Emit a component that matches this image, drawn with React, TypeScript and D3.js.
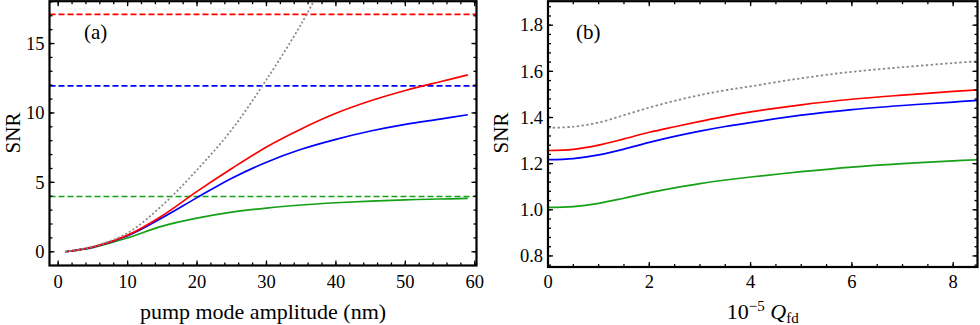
import React from 'react';
import * as d3 from 'd3';

// panel (a): SNR vs pump mode amplitude
const ampX = [1, 5, 10, 15, 20, 25, 30, 35, 40, 45, 50, 55, 59];
const ampRed = [0, 0.35, 1.2, 2.6, 4.35, 6.0, 7.55, 8.85, 9.98, 10.88, 11.62, 12.25, 12.74];
const ampBlue = [0, 0.33, 1.15, 2.45, 3.9, 5.3, 6.45, 7.38, 8.1, 8.7, 9.18, 9.56, 9.87];
const ampGreen = [0, 0.3, 1.0, 1.85, 2.42, 2.85, 3.15, 3.37, 3.53, 3.65, 3.74, 3.8, 3.84];
const grayX = [1, 5, 10, 15, 20, 25, 30, 35, 38];
const ampGray = [0, 0.38, 1.35, 3.35, 5.9, 8.8, 12.4, 16.4, 19.2];
const limitsA = [
  { v: 17.1, color: '#ff0000' },
  { v: 11.95, color: '#0000ff' },
  { v: 3.98, color: '#16a016' },
];

// panel (b): SNR vs 10^-5 Q_fd
const qX = [0, 0.5, 1, 1.5, 2, 2.5, 3, 3.5, 4, 5, 6, 7, 8, 8.5];
const qGray = [1.355, 1.36, 1.378, 1.41, 1.443, 1.472, 1.497, 1.518, 1.535, 1.57, 1.598, 1.618, 1.636, 1.644];
const qRed = [1.257, 1.262, 1.28, 1.307, 1.336, 1.36, 1.383, 1.405, 1.424, 1.455, 1.479, 1.497, 1.513, 1.52];
const qBlue = [1.217, 1.222, 1.238, 1.263, 1.292, 1.318, 1.341, 1.361, 1.378, 1.41, 1.434, 1.452, 1.467, 1.474];
const qGreen = [1.01, 1.014, 1.028, 1.05, 1.074, 1.095, 1.113, 1.129, 1.142, 1.165, 1.185, 1.2, 1.212, 1.217];

const ticksAx = [0, 10, 20, 30, 40, 50, 60];
const ticksAy = [0, 5, 10, 15];
const ticksBx = [0, 2, 4, 6, 8];
const ticksBy = [0.8, 1.0, 1.2, 1.4, 1.6, 1.8];

const FONT = '"Liberation Serif", "Times New Roman", serif';
const RED = '#ff0000';
const BLUE = '#0000ff';
const GREEN = '#16a016';
const GRAY = '#8a8a8a';

type Series = { xs: number[]; ys: number[]; color: string; dash?: string };

function Panel({ id, left, right, top, bottom, xDomain, yDomain, xTicks, yTicks, xMinor, yMinor, yFmt, series, limits, tag, tagX, xLabel, yLabelX }: any) {
  const x = d3.scaleLinear().domain(xDomain).range([left, right]);
  const y = d3.scaleLinear().domain(yDomain).range([bottom, top]);
  const line = (s: Series) =>
    d3.line<number>().x((_, i) => x(s.xs[i])).y(d => y(d)).curve(d3.curveCatmullRom.alpha(0.5))(s.ys) || '';
  const minorX = d3.range(Math.ceil(xDomain[0] / xMinor) * xMinor, xDomain[1] + 1e-9, xMinor);
  const minorY = d3.range(Math.ceil(yDomain[0] / yMinor - 1e-9) * yMinor, yDomain[1] + 1e-9, yMinor);
  return (
    <g>
      <defs>
        <clipPath id={id}>
          <rect x={left} y={top} width={right - left} height={bottom - top} />
        </clipPath>
      </defs>
      <g clipPath={`url(#${id})`}>
        {limits.map((l: any, i: number) => (
          <line key={i} x1={left} x2={right} y1={y(l.v)} y2={y(l.v)} stroke={l.color} strokeWidth={1.6} strokeDasharray="6,3" />
        ))}
        {series.map((s: Series, i: number) => (
          <path key={i} d={line(s)} fill="none" stroke={s.color} strokeWidth={s.dash ? 1.8 : 1.7} strokeDasharray={s.dash} />
        ))}
      </g>
      {/* minor ticks, all four sides */}
      {minorX.map((v: number, i: number) => (
        <g key={'mx' + i}>
          <line x1={x(v)} x2={x(v)} y1={bottom} y2={bottom - 3} stroke="#000" strokeWidth={1.3} />
          <line x1={x(v)} x2={x(v)} y1={top} y2={top + 3} stroke="#000" strokeWidth={1.3} />
        </g>
      ))}
      {minorY.map((v: number, i: number) => (
        <g key={'my' + i}>
          <line x1={left} x2={left + 3} y1={y(v)} y2={y(v)} stroke="#000" strokeWidth={1.3} />
          <line x1={right} x2={right - 3} y1={y(v)} y2={y(v)} stroke="#000" strokeWidth={1.3} />
        </g>
      ))}
      {xTicks.map((v: number) => (
        <g key={'tx' + v}>
          <line x1={x(v)} x2={x(v)} y1={bottom} y2={bottom - 5} stroke="#000" strokeWidth={1.3} />
          <line x1={x(v)} x2={x(v)} y1={top} y2={top + 5} stroke="#000" strokeWidth={1.3} />
          <text x={x(v)} y={288} textAnchor="middle" fontFamily={FONT} fontSize={18.5}>{v}</text>
        </g>
      ))}
      {yTicks.map((v: number) => (
        <g key={'ty' + v}>
          <line x1={left} x2={left + 5} y1={y(v)} y2={y(v)} stroke="#000" strokeWidth={1.3} />
          <line x1={right} x2={right - 5} y1={y(v)} y2={y(v)} stroke="#000" strokeWidth={1.3} />
          <text x={left - 5} y={y(v)} dy="0.34em" textAnchor="end" fontFamily={FONT} fontSize={18.5}>{yFmt(v)}</text>
        </g>
      ))}
      <rect x={left} y={top} width={right - left} height={bottom - top} fill="none" stroke="#000" strokeWidth={2.2} />
      <text x={tagX} y={39} fontFamily={FONT} fontSize={21}>{tag}</text>
      <text transform={`translate(${yLabelX},133) rotate(-90)`} textAnchor="middle" fontFamily={FONT} fontSize={21}>SNR</text>
      <text x={(left + right) / 2} y={319} textAnchor="middle" fontFamily={FONT} fontSize={22}>{xLabel}</text>
    </g>
  );
}

export default function App() {
  const seriesA: Series[] = [
    { xs: ampX, ys: ampGreen, color: GREEN },
    { xs: ampX, ys: ampBlue, color: BLUE },
    { xs: ampX, ys: ampRed, color: RED },
    { xs: grayX, ys: ampGray, color: GRAY, dash: '2,2.2' },
  ];
  const seriesB: Series[] = [
    { xs: qX, ys: qGray, color: GRAY, dash: '2.4,2.4' },
    { xs: qX, ys: qGreen, color: GREEN },
    { xs: qX, ys: qBlue, color: BLUE },
    { xs: qX, ys: qRed, color: RED },
  ];
  return (
    <svg width={980} height={325} style={{ position: 'absolute', left: 0, top: 0, background: '#fff' }}>
      <Panel
        id="clipA" left={49.5} right={476.5} top={1.2} bottom={265.5}
        xDomain={[-1.25, 60.25]} yDomain={[-0.99, 18.05]}
        xTicks={ticksAx} yTicks={ticksAy} xMinor={2} yMinor={1}
        yFmt={(v: number) => String(v)}
        series={seriesA} limits={limitsA}
        tag="(a)" tagX={84} yLabelX={19.5}
        xLabel="pump mode amplitude (nm)"
      />
      <Panel
        id="clipB" left={548} right={977.5} top={1.2} bottom={267}
        xDomain={[0, 8.48]} yDomain={[0.752, 1.904]}
        xTicks={ticksBx} yTicks={ticksBy} xMinor={0.5} yMinor={0.04}
        yFmt={(v: number) => d3.format('.1f')(v)}
        series={seriesB} limits={[]}
        tag="(b)" tagX={576} yLabelX={508}
        xLabel={
          <>
            <tspan>10</tspan>
            <tspan fontSize={15} dy={-8}>−5</tspan>
            <tspan dy={8}> </tspan>
            <tspan fontStyle="italic">Q</tspan>
            <tspan fontSize={15} dy={4}>fd</tspan>
          </>
        }
      />
    </svg>
  );
}
